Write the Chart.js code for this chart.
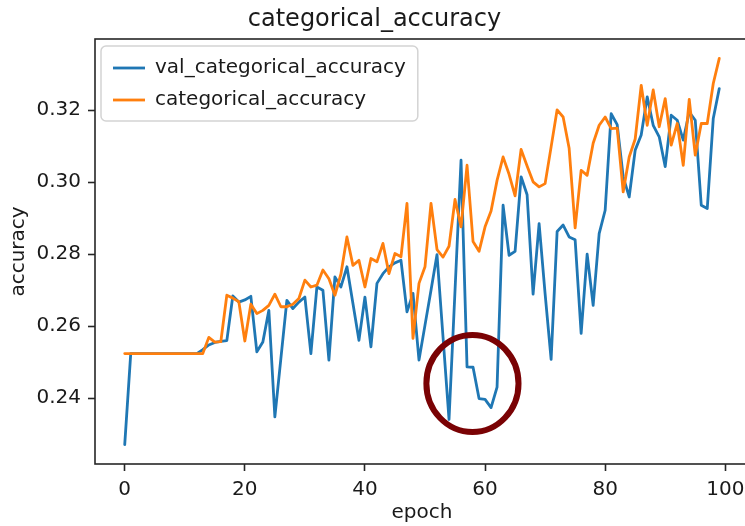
<!DOCTYPE html>
<html>
<head>
<meta charset="utf-8">
<title>categorical_accuracy</title>
<script src="https://cdn.jsdelivr.net/npm/chart.js@4.4.0/dist/chart.umd.min.js"></script>
<style>
  html, body { margin: 0; padding: 0; background: #fff; overflow: hidden; }
  #wrap { width: 749px; height: 526px; }
</style>
</head>
<body>
<div id="wrap"><canvas id="accChart" width="749" height="526"></canvas></div>
<script>
// per-epoch accuracy from the training history
const valAccuracy = [
  0.2271, 0.2524, 0.2524, 0.2524, 0.2524, 0.2524, 0.2524, 0.2524, 0.2524, 0.2524,
  0.2524, 0.2524, 0.2524, 0.2535, 0.2548, 0.2555, 0.2558, 0.2560, 0.2684, 0.2667,
  0.2673, 0.2683, 0.2529, 0.2556, 0.2644, 0.2348, 0.2510, 0.2672, 0.2649, 0.2667,
  0.2681, 0.2524, 0.2709, 0.2700, 0.2506, 0.2737, 0.2709, 0.2765, 0.2663, 0.2561,
  0.2681, 0.2543, 0.2719, 0.2746, 0.2765, 0.2776, 0.2783, 0.2640, 0.2691, 0.2506,
  0.2603, 0.2700, 0.2799, 0.2570, 0.2341, 0.2700, 0.3061, 0.2487, 0.2486, 0.2399,
  0.2397, 0.2374, 0.2431, 0.2936, 0.2797, 0.2808, 0.3015, 0.2965, 0.2689, 0.2885,
  0.2690, 0.2508, 0.2863, 0.2881, 0.2848, 0.2840, 0.2580, 0.2800, 0.2658, 0.2857,
  0.2922, 0.3190, 0.3160, 0.3015, 0.2959, 0.3089, 0.3131, 0.3237, 0.3158, 0.3126,
  0.3043, 0.3186, 0.3172, 0.3117, 0.3195, 0.3172, 0.2936, 0.2927, 0.3177, 0.3260
];
const accuracy = [
  0.2524, 0.2524, 0.2524, 0.2524, 0.2524, 0.2524, 0.2524, 0.2524, 0.2524, 0.2524,
  0.2524, 0.2524, 0.2524, 0.2524, 0.2569, 0.2556, 0.2557, 0.2686, 0.2678, 0.2668,
  0.2559, 0.2661, 0.2635, 0.2644, 0.2658, 0.2689, 0.2654, 0.2654, 0.2661, 0.2677,
  0.2728, 0.2709, 0.2714, 0.2756, 0.2732, 0.2686, 0.2745, 0.2848, 0.2769, 0.2783,
  0.2709, 0.2788, 0.2779, 0.2830, 0.2746, 0.2802, 0.2793, 0.2941, 0.2566, 0.2719,
  0.2765, 0.2941, 0.2813, 0.2792, 0.2822, 0.2952, 0.2876, 0.3047, 0.2835, 0.2808,
  0.2876, 0.2920, 0.3005, 0.3070, 0.3022, 0.2962, 0.3091, 0.3045, 0.3001, 0.2987,
  0.2996, 0.3098, 0.3201, 0.3181, 0.3094, 0.2873, 0.3033, 0.3019, 0.3108, 0.3158,
  0.3181, 0.3149, 0.3150, 0.2973, 0.3070, 0.3120, 0.3269, 0.3158, 0.3256, 0.3154,
  0.3232, 0.3103, 0.3163, 0.3047, 0.3230, 0.3075, 0.3163, 0.3163, 0.3274, 0.3344
];
const epochTicks = [0, 20, 40, 60, 80, 100];
const accuracyTicks = [0.24, 0.26, 0.28, 0.30, 0.32];

// the ring drawn around the dip in validation accuracy (data units)
const ring = { epoch: 57.9, value: 0.2441, epochRadius: 7.67, valueRadius: 0.01347 };

const FONT = "'DejaVu Sans', sans-serif";
const INK = '#1a1a1a';

// axis limits padded 5% like matplotlib's autoscale
const allValues = valAccuracy.concat(accuracy);
const yLo = Math.min(...allValues), yHi = Math.max(...allValues);
const yPad = (yHi - yLo) * 0.05;
const xLast = valAccuracy.length - 1;
const xPad = xLast * 0.05;

function toPoints(values) {
  return values.map((v, i) => ({ x: i, y: v }));
}

// full box around the axes
const frameBox = {
  id: 'frameBox',
  afterDatasetsDraw(chart) {
    const { ctx, chartArea: a } = chart;
    ctx.save();
    ctx.strokeStyle = '#262626';
    ctx.lineWidth = 1.6;
    ctx.strokeRect(a.left, a.top, a.right - a.left, a.bottom - a.top);
    ctx.restore();
  }
};

const ringNote = {
  id: 'ringNote',
  afterDraw(chart) {
    const { ctx, scales: { x, y } } = chart;
    const cx = x.getPixelForValue(ring.epoch);
    const cy = y.getPixelForValue(ring.value);
    const rx = Math.abs(x.getPixelForValue(ring.epoch + ring.epochRadius) - cx);
    const ry = Math.abs(y.getPixelForValue(ring.value + ring.valueRadius) - cy);
    ctx.save();
    ctx.strokeStyle = '#7a0204';
    ctx.lineWidth = 6;
    ctx.beginPath();
    ctx.ellipse(cx, cy, rx, ry, 0, 0, Math.PI * 2);
    ctx.stroke();
    ctx.restore();
  }
};

// legend in a rounded box, upper left inside the axes
const boxLegend = {
  id: 'boxLegend',
  afterDraw(chart) {
    const { ctx, chartArea: a } = chart;
    const sets = chart.data.datasets;
    ctx.save();
    ctx.font = '20px ' + FONT;
    const textW = Math.max(...sets.map(d => ctx.measureText(d.label).width));
    const left = a.left + 6, top = a.top + 7;
    const handleX = left + 12, handleLen = 32, textX = handleX + handleLen + 10;
    const rowGap = 32, firstRow = 22;
    const w = textX - left + textW + 12;
    const h = firstRow * 2 + rowGap * (sets.length - 1) - 1;

    ctx.beginPath();
    ctx.roundRect(left, top, w, h, 5);
    ctx.fillStyle = 'rgba(255,255,255,0.8)';
    ctx.fill();
    ctx.strokeStyle = '#d3d3d3';
    ctx.lineWidth = 1.5;
    ctx.stroke();

    sets.forEach((d, i) => {
      const cy = top + firstRow + i * rowGap;
      ctx.strokeStyle = d.borderColor;
      ctx.lineWidth = 2.8;
      ctx.beginPath();
      ctx.moveTo(handleX, cy);
      ctx.lineTo(handleX + handleLen, cy);
      ctx.stroke();
      ctx.fillStyle = INK;
      ctx.textBaseline = 'middle';
      ctx.textAlign = 'left';
      ctx.fillText(d.label, textX, cy);
    });
    ctx.restore();
  }
};

const tickGrid = {
  drawOnChartArea: false,
  drawTicks: true,
  tickLength: 7,
  tickWidth: 1.6,
  tickColor: '#262626'
};

new Chart(document.getElementById('accChart'), {
  type: 'line',
  data: {
    datasets: [
      {
        label: 'val_categorical_accuracy',
        data: toPoints(valAccuracy),
        borderColor: '#1f77b4',
        order: 1
      },
      {
        label: 'categorical_accuracy',
        data: toPoints(accuracy),
        borderColor: '#ff7f0e',
        order: 0
      }
    ]
  },
  options: {
    responsive: false,
    animation: false,
    layout: { padding: 0, autoPadding: false },
    elements: {
      point: { radius: 0, hoverRadius: 0 },
      line: { borderWidth: 2.8, tension: 0, borderJoinStyle: 'round', borderCapStyle: 'round', fill: false }
    },
    plugins: {
      legend: { display: false },
      tooltip: { enabled: false },
      title: {
        display: true,
        text: 'categorical_accuracy',
        color: INK,
        font: { family: FONT, size: 24, weight: 'normal' },
        padding: { top: 5, bottom: 5.2 }
      }
    },
    scales: {
      x: {
        type: 'linear',
        min: -xPad,
        max: xLast + xPad,
        afterBuildTicks: s => { s.ticks = epochTicks.map(v => ({ value: v })); },
        afterFit: s => { s.height = 62; s.paddingLeft = 0; s.paddingRight = 0; },
        grid: tickGrid,
        border: { display: false },
        ticks: {
          padding: 7,
          maxRotation: 0,
          autoSkip: false,
          color: INK,
          font: { family: FONT, size: 20 },
          callback: v => String(v)
        },
        title: {
          display: true,
          text: 'epoch',
          color: INK,
          font: { family: FONT, size: 20 },
          padding: { top: 0, bottom: 1 }
        }
      },
      y: {
        type: 'linear',
        min: yLo - yPad,
        max: yHi + yPad,
        afterBuildTicks: s => { s.ticks = accuracyTicks.map(v => ({ value: v })); },
        afterFit: s => { s.width = 95; s.paddingTop = 0; s.paddingBottom = 0; },
        grid: tickGrid,
        border: { display: false },
        ticks: {
          padding: 7,
          autoSkip: false,
          color: INK,
          font: { family: FONT, size: 20 },
          callback: v => v.toFixed(2)
        },
        title: {
          display: true,
          text: 'accuracy',
          color: INK,
          font: { family: FONT, size: 20 },
          padding: { top: 7, bottom: 0 }
        }
      }
    }
  },
  plugins: [frameBox, ringNote, boxLegend]
});
</script>
</body>
</html>
